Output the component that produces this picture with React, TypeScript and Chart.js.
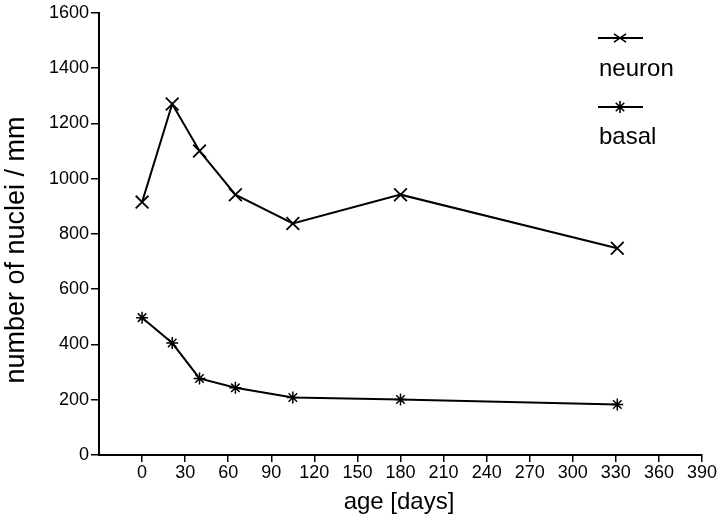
import React, { useEffect, useRef } from "react";
import { Chart, registerables } from "chart.js";

Chart.register(...registerables);

const ages = [0, 21, 40, 65, 105, 180, 331];
const neuron = [915, 1270, 1100, 942, 838, 942, 748];
const basal = [497, 405, 277, 243, 208, 201, 183];
const xTicksMin = 0;
const xTitle = "age [days]";
const yTitle = "number of nuclei / mm";
const FONT = "'Liberation Sans', Arial, Helvetica, sans-serif";

const legendPlugin = {
  id: "customLegend",
  afterDraw(chart: any) {
    const ctx = chart.ctx;
    ctx.save();
    ctx.strokeStyle = "#000";
    ctx.fillStyle = "#000";
    ctx.lineWidth = 2;
    const items = [
      { y: 38, label: "neuron", ty: 76, style: "crossRot" },
      { y: 107, label: "basal", ty: 144, style: "star" },
    ];
    items.forEach((it) => {
      ctx.beginPath();
      ctx.moveTo(598, it.y);
      ctx.lineTo(643, it.y);
      ctx.stroke();
      const cx = 620;
      ctx.lineWidth = 1.6;
      ctx.beginPath();
      if (it.style === "crossRot") {
        const r = 6;
        ctx.moveTo(cx - r, it.y - r * 0.7);
        ctx.lineTo(cx + r, it.y + r * 0.7);
        ctx.moveTo(cx - r, it.y + r * 0.7);
        ctx.lineTo(cx + r, it.y - r * 0.7);
      } else {
        const r = 6;
        const d = r * 0.707;
        ctx.moveTo(cx, it.y - r);
        ctx.lineTo(cx, it.y + r);
        ctx.moveTo(cx - d, it.y - d);
        ctx.lineTo(cx + d, it.y + d);
        ctx.moveTo(cx - d, it.y + d);
        ctx.lineTo(cx + d, it.y - d);
      }
      ctx.stroke();
      ctx.lineWidth = 2;
      ctx.font = `24px ${FONT}`;
      ctx.textAlign = "left";
      ctx.textBaseline = "alphabetic";
      ctx.fillText(it.label, 599, it.ty);
    });
    // axis titles
    ctx.font = `24px ${FONT}`;
    ctx.textAlign = "center";
    ctx.textBaseline = "alphabetic";
    ctx.fillText(xTitle, 399, 509);
    ctx.save();
    ctx.translate(24, 250);
    ctx.rotate(-Math.PI / 2);
    ctx.font = `27px ${FONT}`;
    ctx.fillText(yTitle, 0, 0);
    ctx.restore();
    ctx.restore();
  },
};

export default function App() {
  const ref = useRef<HTMLCanvasElement | null>(null);
  useEffect(() => {
    if (!ref.current) return;
    const chart = new Chart(ref.current, {
      type: "line",
      data: {
        datasets: [
          {
            label: "neuron",
            data: ages.map((a, i) => ({ x: a, y: neuron[i] })),
            borderColor: "#000",
            backgroundColor: "#000",
            borderWidth: 2,
            pointStyle: "crossRot",
            pointRadius: 9,
            pointBorderWidth: 1.8,
            tension: 0,
          },
          {
            label: "basal",
            data: ages.map((a, i) => ({ x: a, y: basal[i] })),
            borderColor: "#000",
            backgroundColor: "#000",
            borderWidth: 2,
            pointStyle: "star",
            pointRadius: 6,
            pointBorderWidth: 1.5,
            tension: 0,
          },
        ],
      },
      options: {
        animation: false,
        responsive: false,
        maintainAspectRatio: false,
        layout: { padding: { left: 0, top: 10, right: 18, bottom: 0 } },
        plugins: { legend: { display: false }, tooltip: { enabled: false } },
        scales: {
          x: {
            type: "linear",
            min: -30,
            max: 390,
            afterBuildTicks: (scale: any) => {
              scale.ticks = scale.ticks.filter((t: any) => t.value >= xTicksMin);
            },
            afterFit: (scale: any) => {
              scale.height = 64;
            },
            ticks: {
              stepSize: 30,
              color: "#000",
              font: { family: FONT, size: 18 },
              padding: 0,
              maxRotation: 0,
              autoSkip: false,
              callback: (v: any) => String(v),
            },
            grid: {
              display: true,
              drawOnChartArea: false,
              tickLength: 7,
              color: "#000",
              lineWidth: 1.5,
            },
            border: { display: true, color: "#000", width: 2 },
          },
          y: {
            type: "linear",
            min: 0,
            max: 1600,
            afterFit: (scale: any) => {
              scale.width = 99;
            },
            ticks: {
              stepSize: 200,
              color: "#000",
              font: { family: FONT, size: 18 },
              padding: 2,
              callback: (v: any) => String(v),
            },
            grid: {
              display: true,
              drawOnChartArea: false,
              tickLength: 8,
              color: "#000",
              lineWidth: 1.5,
            },
            border: { display: true, color: "#000", width: 2 },
          },
        },
      },
      plugins: [legendPlugin],
    });
    return () => chart.destroy();
  }, []);
  return (
    <div style={{ position: "fixed", left: 0, top: 0, width: 720, height: 519, background: "#fff" }}>
      <canvas ref={ref} width={720} height={519} style={{ width: 720, height: 519 }} />
    </div>
  );
}
